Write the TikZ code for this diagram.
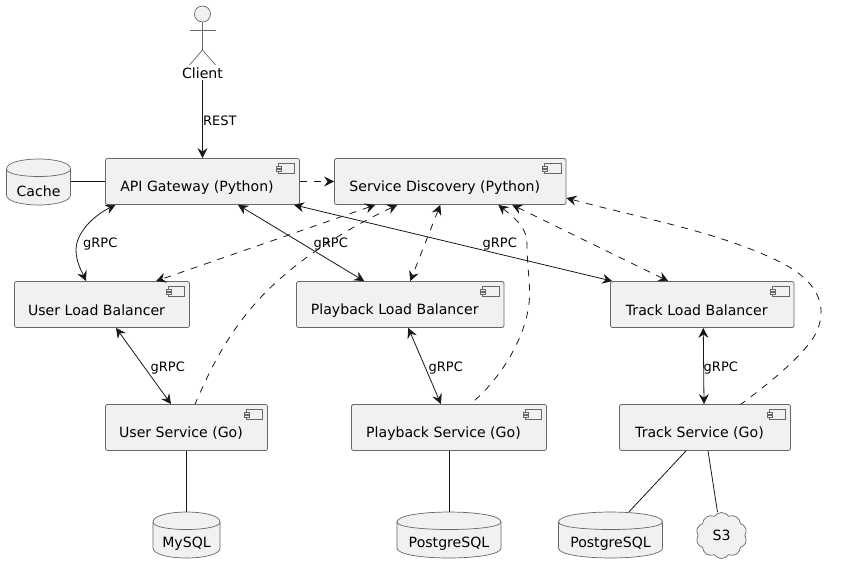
\documentclass[tikz,border=0pt]{standalone}
\usepackage{fontspec}
\setmainfont{DejaVu Sans}
\usetikzlibrary{arrows.meta,shapes.symbols}
\definecolor{boxfill}{HTML}{F1F1F1}
\definecolor{boxline}{HTML}{686868}
\definecolor{edge}{HTML}{181818}
\tikzset{
  compbox/.style={draw=boxline,fill=boxfill,line width=0.8pt,rounded corners=2pt,inner sep=0pt},
  shapeline/.style={draw=boxline,fill=boxfill,line width=0.7pt},
  nametext/.style={inner sep=0pt,text=black,font=\fontsize{14.1}{16}\selectfont},
  edgetext/.style={inner sep=0pt,anchor=west,text=black,font=\fontsize{13}{15}\selectfont},
  conn/.style={draw=edge,line width=0.8pt},
  tipb/.style={conn,{Stealth[length=10pt,width=10pt,inset=3.5pt]}-{Stealth[length=10pt,width=10pt,inset=3.5pt]}},
  tipe/.style={conn,-{Stealth[length=10pt,width=10pt,inset=3.5pt]}},
  tips/.style={conn,{Stealth[length=10pt,width=10pt,inset=3.5pt]}-},
  dashline/.style={dash pattern=on 7pt off 7pt}
}
% name, left, top, right, bottom, text
\newcommand{\compnode}[6]{
  \node[compbox,minimum width={#4-#2},minimum height={#5-#3}] (#1) at ({(#2+#4)/2},{(#3+#5)/2}) {};
  \node[nametext] (#1-t) at ([xshift=-5.5pt,yshift=-6pt]#1.center) {#6};
  \fill[boxfill,draw=boxline,line width=0.7pt] ({#4-21.5},{#3+5}) rectangle ({#4-5},{#3+15});
  \fill[boxfill,draw=boxline,line width=0.7pt] ({#4-23.5},{#3+7.5}) rectangle ({#4-18.5},{#3+9.5});
  \fill[boxfill,draw=boxline,line width=0.7pt] ({#4-23.5},{#3+11}) rectangle ({#4-18.5},{#3+13});
}
% name, cx, cy, half width, half height, text
\newcommand{\dbnode}[6]{
  \node[inner sep=0pt,minimum width={2*#4},minimum height={2*#5}] (#1) at (#2,#3) {};
  \begin{scope}[shift={(#2,#3)}]
    \path[shapeline] (-#4,{-#5+10}) .. controls (-#4,{-#5-3.3}) and (#4,{-#5-3.3}) .. (#4,{-#5+10})
      -- (#4,{#5-10}) .. controls (#4,{#5+3.3}) and (-#4,{#5+3.3}) .. (-#4,{#5-10}) -- cycle;
    \path[draw=boxline,line width=0.7pt] (-#4,{-#5+10}) .. controls (-#4,{-#5+20}) and (#4,{-#5+20}) .. (#4,{-#5+10});
  \end{scope}
  \node[nametext] (#1-t) at (#2,{#3+9}) {#6};
}
\begin{document}
\begin{tikzpicture}[x=1pt,y=-1pt]
\useasboundingbox (0,0) rectangle (850,573);
\fill[white] (0,0) rectangle (850,573);

% actor
\node[shapeline,circle,inner sep=0pt,minimum size=16pt] (head) at (202.5,14) {};
\node[nametext] (client) at (202.5,73) {Client};
\draw[boxline,line width=0.7pt] (head.south) -- (202.5,50) -- (189.5,65);
\draw[boxline,line width=0.7pt] (202.5,50) -- (215.5,65);
\draw[boxline,line width=0.7pt] (189.5,30) -- (215.5,30);

% components
\compnode{gw}{105.5}{158.5}{299.5}{204.5}{API Gateway (Python)}
\compnode{sd}{334.5}{158.5}{566}{204.5}{Service Discovery (Python)}
\compnode{ulb}{14.5}{281.5}{189.5}{327.5}{User Load Balancer}
\compnode{plb}{296.5}{281.5}{504}{327.5}{Playback Load Balancer}
\compnode{tlb}{610.5}{281.5}{794}{327.5}{Track Load Balancer}
\compnode{us}{105.5}{404.5}{267.5}{450.5}{User Service (Go)}
\compnode{ps}{351.5}{404.5}{546.5}{450.5}{Playback Service (Go)}
\compnode{ts}{619.5}{404.5}{790.5}{450.5}{Track Service (Go)}

% databases
\dbnode{cache}{38.5}{182}{32}{23}{Cache}
\dbnode{mysql}{186.5}{535}{33.5}{23}{MySQL}
\dbnode{pg}{449}{535}{52}{23}{PostgreSQL}
\dbnode{pgt}{610.5}{535}{52}{23}{PostgreSQL}

% cloud
\node[cloud,cloud puffs=10,cloud puff arc=110,aspect=1,shapeline,inner sep=0pt,minimum width=51pt,minimum height=46pt,nametext] (s3) at (721.5,535.5) {S3};

% connectors
\draw[tipe] (client.south) ++(0,1) -- (gw.north);
\draw[conn] (cache.east |- gw.west) -- (gw.west);
\draw[tipb] ([xshift=-87pt]gw.south) .. controls (93,216) and (76,233) .. (76,250)
   .. controls (76,262) and (82,272) .. ([xshift=-16pt]ulb.north);
\draw[tipb] ([xshift=35.5pt]gw.south) -- ([xshift=-36pt]plb.north);
\draw[tipb] ([xshift=91.5pt]gw.south) -- ([xshift=-90pt]tlb.north);
\draw[tipe,dashline] (gw.east) -- (sd.west);
\draw[tipb,dashline] ([xshift=-75pt]sd.south) -- ([xshift=54pt]ulb.north);
\draw[tips,dashline] ([xshift=-53pt]sd.south) .. controls (340,232) and (295,262) .. (263,295)
   .. controls (225,335) and (208,375) .. ([xshift=8.5pt]us.north);
\draw[tipb,dashline] ([xshift=-10pt]sd.south) -- ([xshift=10pt]plb.north);
\draw[tips,dashline] ([xshift=48pt]sd.south) .. controls (520,222) and (527,230) .. (527,245)
   .. controls (527,270) and (532,290) .. (528,310)
   .. controls (522,345) and (495,385) .. ([xshift=21pt]ps.north);
\draw[tipb,dashline] ([xshift=62pt]sd.south) -- ([xshift=-34pt]tlb.north);
\draw[tips,dashline] ([yshift=-16.5pt]sd.east) .. controls (640,218) and (720,232) .. (780,262)
   .. controls (822,283) and (828,310) .. (815,335)
   .. controls (800,360) and (760,390) .. ([xshift=36pt]ts.north);
\draw[tipb] ([xshift=14pt]ulb.south) -- ([xshift=-15.5pt]us.north);
\draw[tipb] ([xshift=8pt]plb.south) -- ([xshift=-8pt]ps.north);
\draw[tipb] ([xshift=1pt]tlb.south) -- ([xshift=-1pt]ts.north);
\draw[conn] (us.south) -- (mysql.north);
\draw[conn] (ps.south) -- (pg.north);
\draw[conn] ([xshift=-19pt]ts.south) -- ([xshift=18.5pt]pgt.north);
\draw[conn] ([xshift=3pt]ts.south) -- ([xshift=-4pt]s3.north);

% labels
\node[edgetext] (l0) at (203,121) {REST};
\node[edgetext] (l1) at (83,244.5) {gRPC};
\node[edgetext] (l2) at (313.5,244.5) {gRPC};
\node[edgetext] (l3) at (482.5,244.5) {gRPC};
\node[edgetext] (l4) at (150.5,368) {gRPC};
\node[edgetext] (l5) at (428.5,368) {gRPC};
\node[edgetext] (l6) at (703.5,368) {gRPC};
\end{tikzpicture}
\end{document}
